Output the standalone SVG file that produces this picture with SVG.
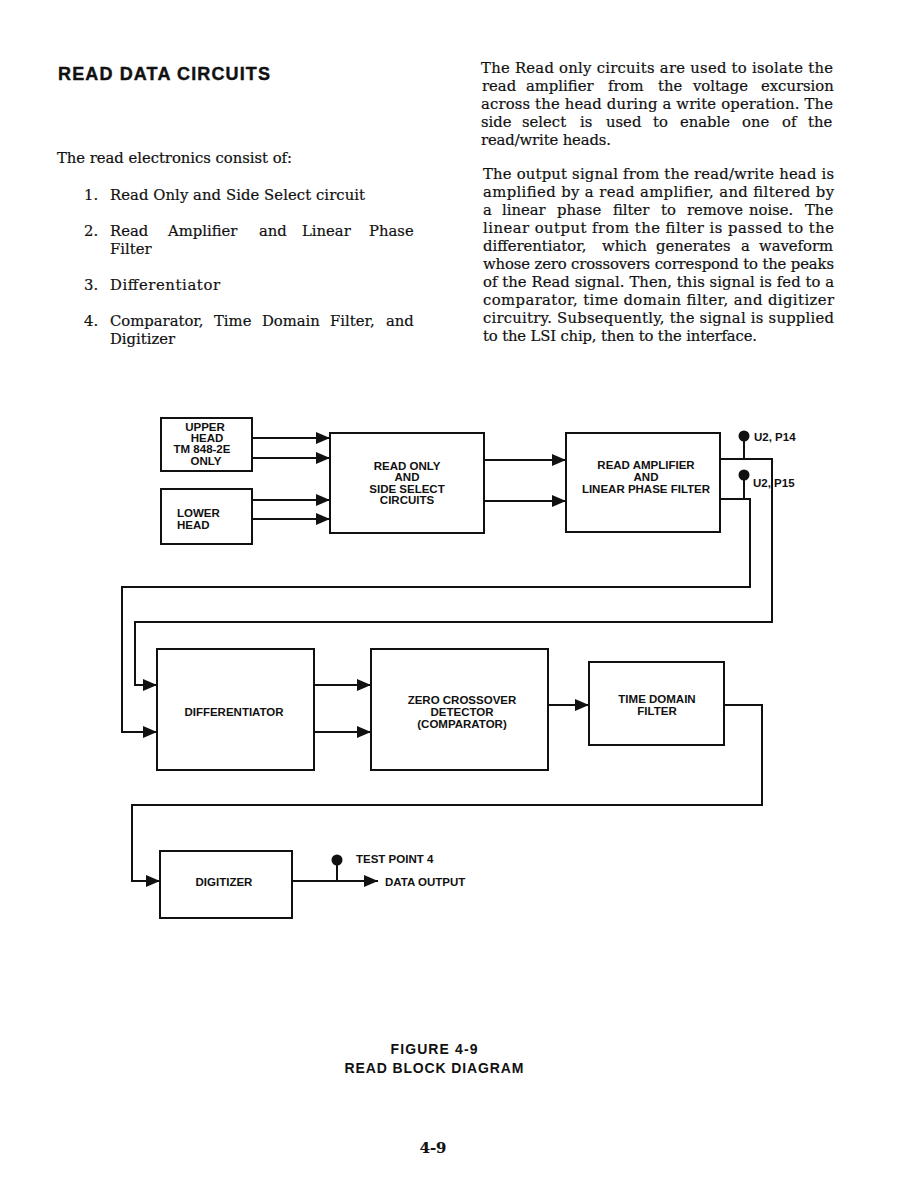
<svg xmlns="http://www.w3.org/2000/svg" width="918" height="1188" viewBox="0 0 918 1188">
<style>
.bg{fill:#ffffff}
.body{font-family:"DejaVu Serif","Liberation Serif",serif;font-size:14.8px;fill:#111;stroke:#111;stroke-width:0.2}
.title{font-family:"Liberation Sans",Arial,sans-serif;font-weight:bold;font-size:18px;fill:#111;stroke:#111;stroke-width:0.4}
.lbl{font-family:"Liberation Sans",Arial,sans-serif;font-weight:bold;font-size:11.5px;fill:#111}
.mid{text-anchor:middle}
.cap{font-family:"Liberation Sans",Arial,sans-serif;font-weight:bold;font-size:14px;fill:#111}
.box{fill:#ffffff;stroke:#111;stroke-width:2}
.wire{fill:none;stroke:#111;stroke-width:2}
.arr{fill:none;stroke:#111;stroke-width:2;marker-end:url(#ah)}
.dot{fill:#111}
</style>
<defs>
<marker id="ah" markerUnits="userSpaceOnUse" markerWidth="14" markerHeight="12" refX="14" refY="6" orient="auto">
<path d="M0,0 L14,6 L0,12 z" fill="#111"/>
</marker>
</defs>
<rect class="bg" x="0" y="0" width="918" height="1188"/>

<g id="text-left">
<text class="title" x="58" y="80" textLength="212" lengthAdjust="spacing">READ DATA CIRCUITS</text>
<text class="body" x="57" y="163" textLength="235" lengthAdjust="spacing">The read electronics consist of:</text>
<text class="body" x="84" y="200">1.</text>
<text class="body" x="110" y="200" textLength="255" lengthAdjust="spacing">Read Only and Side Select circuit</text>
<text class="body" x="84" y="236">2.</text>
<text class="body" y="236"><tspan x="110">Read</tspan><tspan x="168">Amplifier</tspan><tspan x="259">and</tspan><tspan x="302">Linear</tspan><tspan x="369">Phase</tspan></text>
<text class="body" x="110" y="254">Filter</text>
<text class="body" x="84" y="290">3.</text>
<text class="body" x="110" y="290" textLength="110" lengthAdjust="spacing">Differentiator</text>
<text class="body" x="84" y="326">4.</text>
<text class="body" y="326"><tspan x="110">Comparator,</tspan><tspan x="214">Time</tspan><tspan x="262">Domain</tspan><tspan x="330">Filter,</tspan><tspan x="386">and</tspan></text>
<text class="body" x="110" y="344">Digitizer</text>
</g>

<g id="text-right">
<text class="body" x="481" y="73" textLength="352" lengthAdjust="spacing">The Read only circuits are used to isolate the</text>
<text class="body" y="91"><tspan x="482">read</tspan><tspan x="526">amplifier</tspan><tspan x="608">from</tspan><tspan x="658">the</tspan><tspan x="693">voltage</tspan><tspan x="761">excursion</tspan></text>
<text class="body" x="481" y="109" textLength="352" lengthAdjust="spacing">across the head during a write operation. The</text>
<text class="body" y="127"><tspan x="481">side</tspan><tspan x="522">select</tspan><tspan x="580">is</tspan><tspan x="606">used</tspan><tspan x="653">to</tspan><tspan x="680">enable</tspan><tspan x="742">one</tspan><tspan x="782">of</tspan><tspan x="808">the</tspan></text>
<text class="body" x="481" y="145" textLength="130" lengthAdjust="spacing">read/write heads.</text>
<text class="body" x="483" y="179" textLength="351" lengthAdjust="spacing">The output signal from the read/write head is</text>
<text class="body" x="483" y="197" textLength="351" lengthAdjust="spacing">amplified by a read amplifier, and filtered by</text>
<text class="body" y="215"><tspan x="483">a</tspan><tspan x="502">linear</tspan><tspan x="557">phase</tspan><tspan x="613">filter</tspan><tspan x="661">to</tspan><tspan x="687">remove</tspan><tspan x="749">noise.</tspan><tspan x="805">The</tspan></text>
<text class="body" x="483" y="233" textLength="351" lengthAdjust="spacing">linear output from the filter is passed to the</text>
<text class="body" y="251"><tspan x="483">differentiator,</tspan><tspan x="602">which</tspan><tspan x="656">generates</tspan><tspan x="741">a</tspan><tspan x="759">waveform</tspan></text>
<text class="body" x="483" y="269" textLength="351" lengthAdjust="spacing">whose zero crossovers correspond to the peaks</text>
<text class="body" x="483" y="287" textLength="351" lengthAdjust="spacing">of the Read signal. Then, this signal is fed to a</text>
<text class="body" x="483" y="305" textLength="351" lengthAdjust="spacing">comparator, time domain filter, and digitizer</text>
<text class="body" x="483" y="323" textLength="351" lengthAdjust="spacing">circuitry. Subsequently, the signal is supplied</text>
<text class="body" x="483" y="341" textLength="274" lengthAdjust="spacing">to the LSI chip, then to the interface.</text>
</g>

<g id="connectors">
<line class="arr" x1="252" y1="438" x2="330" y2="438"/>
<line class="arr" x1="252" y1="458" x2="330" y2="458"/>
<line class="arr" x1="252" y1="500" x2="330" y2="500"/>
<line class="arr" x1="252" y1="519" x2="330" y2="519"/>
<line class="arr" x1="484" y1="460" x2="566" y2="460"/>
<line class="arr" x1="484" y1="501" x2="566" y2="501"/>
<polyline class="arr" points="720,459 772,459 772,622 135,622 135,685 157,685"/>
<polyline class="arr" points="720,499 750,499 750,587 122,587 122,732 157,732"/>
<line class="arr" x1="314" y1="685" x2="371" y2="685"/>
<line class="arr" x1="314" y1="732" x2="371" y2="732"/>
<line class="arr" x1="548" y1="705" x2="589" y2="705"/>
<polyline class="arr" points="724,705 762,705 762,805 132,805 132,881 160,881"/>
<line class="arr" x1="292" y1="881" x2="378" y2="881"/>
<line class="wire" x1="744" y1="436" x2="744" y2="459"/>
<line class="wire" x1="744" y1="475" x2="744" y2="499"/>
<line class="wire" x1="337" y1="860" x2="337" y2="881"/>
<circle class="dot" cx="744" cy="436" r="5.5"/>
<circle class="dot" cx="744" cy="475" r="5.5"/>
<circle class="dot" cx="337" cy="860" r="5.5"/>
<text class="lbl" x="754" y="441">U2, P14</text>
<text class="lbl" x="753" y="487">U2, P15</text>
<text class="lbl" x="356" y="863">TEST POINT 4</text>
<text class="lbl" x="385" y="886">DATA OUTPUT</text>
</g>

<g id="upper-head">
<rect class="box" x="161" y="418" width="91" height="53"/>
<text class="lbl mid" x="205" y="431">UPPER</text>
<text class="lbl mid" x="207" y="442">HEAD</text>
<text class="lbl mid" x="202" y="453">TM 848-2E</text>
<text class="lbl mid" x="206" y="465">ONLY</text>
</g>

<g id="lower-head">
<rect class="box" x="161" y="489" width="91" height="55"/>
<text class="lbl" x="177" y="517">LOWER</text>
<text class="lbl" x="177" y="529">HEAD</text>
</g>

<g id="read-only">
<rect class="box" x="330" y="433" width="154" height="100"/>
<text class="lbl mid" x="407" y="470">READ ONLY</text>
<text class="lbl mid" x="407" y="481">AND</text>
<text class="lbl mid" x="407" y="493">SIDE SELECT</text>
<text class="lbl mid" x="407" y="504">CIRCUITS</text>
</g>

<g id="read-amplifier">
<rect class="box" x="566" y="433" width="154" height="99"/>
<text class="lbl mid" x="646" y="469">READ AMPLIFIER</text>
<text class="lbl mid" x="646" y="481">AND</text>
<text class="lbl mid" x="646" y="493">LINEAR PHASE FILTER</text>
</g>

<g id="differentiator">
<rect class="box" x="157" y="649" width="157" height="121"/>
<text class="lbl mid" x="234" y="716">DIFFERENTIATOR</text>
</g>

<g id="zero-crossover">
<rect class="box" x="371" y="649" width="177" height="121"/>
<text class="lbl mid" x="462" y="704">ZERO CROSSOVER</text>
<text class="lbl mid" x="462" y="716">DETECTOR</text>
<text class="lbl mid" x="462" y="728">(COMPARATOR)</text>
</g>

<g id="time-domain">
<rect class="box" x="589" y="662" width="135" height="83"/>
<text class="lbl mid" x="657" y="703">TIME DOMAIN</text>
<text class="lbl mid" x="657" y="715">FILTER</text>
</g>

<g id="digitizer">
<rect class="box" x="160" y="851" width="132" height="67"/>
<text class="lbl mid" x="224" y="886">DIGITIZER</text>
</g>

<g id="caption">
<text class="cap mid" x="434" y="1054" textLength="87" lengthAdjust="spacing">FIGURE 4-9</text>
<text class="cap mid" x="434" y="1073" textLength="179" lengthAdjust="spacing">READ BLOCK DIAGRAM</text>
<text class="body mid" x="433" y="1153" font-weight="bold">4-9</text>
</g>
</svg>
